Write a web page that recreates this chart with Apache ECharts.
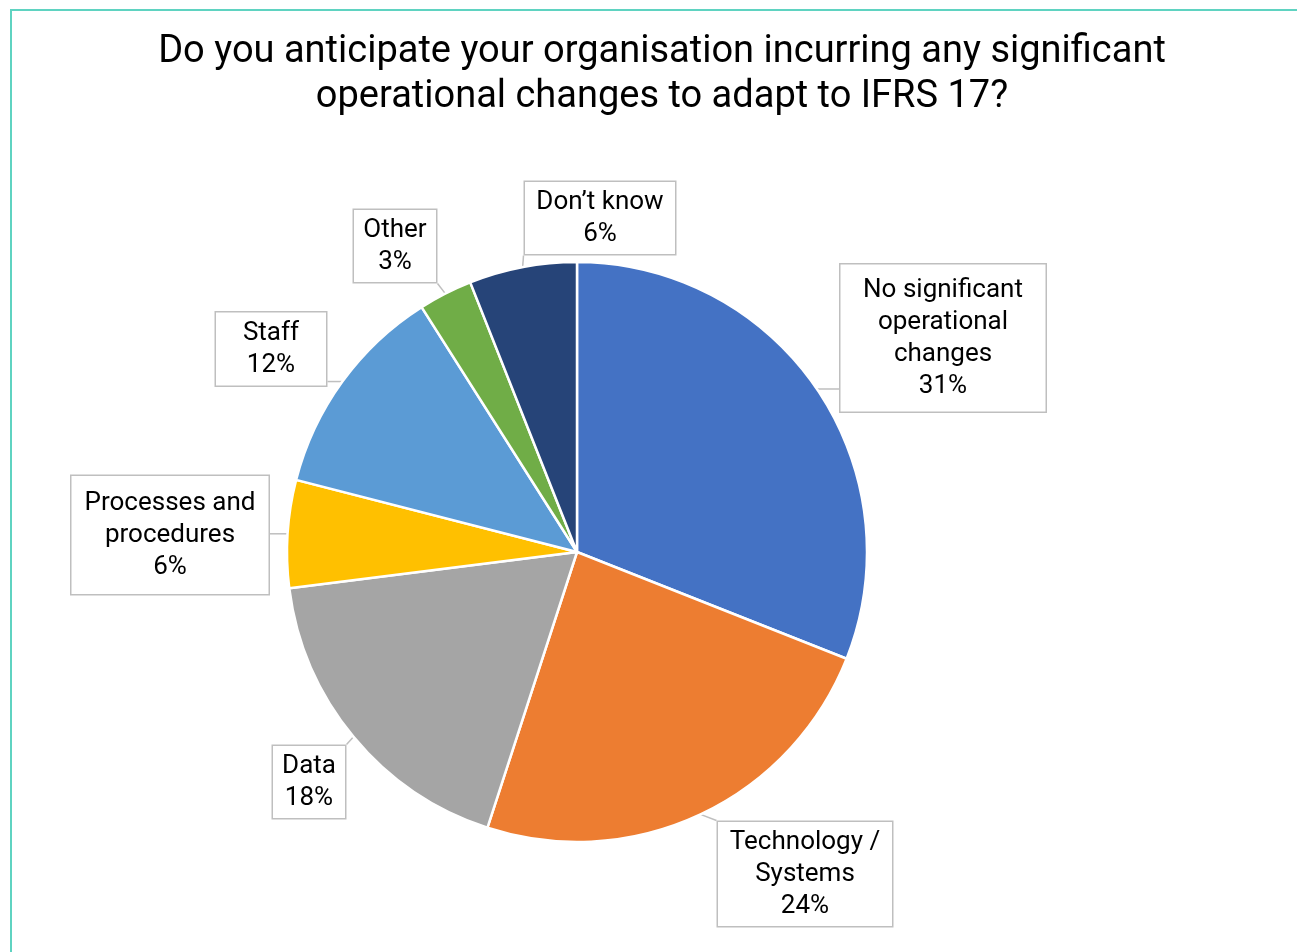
<!DOCTYPE html>
<html>
<head>
<meta charset="utf-8">
<script src="https://cdn.jsdelivr.net/npm/echarts@6/dist/echarts.min.js"></script>
<style>
  html, body { margin: 0; padding: 0; background: #fff; }
  #chart { width: 1297px; height: 952px; }
</style>
</head>
<body>
<div id="chart"></div>
<script>
// Survey responses: operational changes expected for IFRS 17
const categories = [
  'No significant\noperational\nchanges',
  'Technology /\nSystems',
  'Data',
  'Processes and\nprocedures',
  'Staff',
  'Other',
  'Don’t know'
];
const shares = [31, 24, 18, 6, 12, 3, 6];
const sliceColors = ['#4472C4', '#ED7D31', '#A5A5A5', '#FFC000', '#5B9BD5', '#70AD47', '#264478'];

// Callout boxes: centre (px), content width and vertical padding
const calloutCentres = [
  [943, 338], [805, 874], [309, 782], [170, 535], [271, 349], [395, 246], [600, 218]
];
const calloutWidths = [189, 158, 56, 181, 94, 66, 134];
const calloutVPad = [9.5, 4, 4, 11, 4.5, 4, 4];

const chart = echarts.init(document.getElementById('chart'), null, { renderer: 'canvas' });

// Nearest point of a rectangle to a given point
function nearestOnRect(p, r) {
  const x = Math.min(Math.max(p[0], r.x), r.x + r.width);
  const y = Math.min(Math.max(p[1], r.y), r.y + r.height);
  return [x, y];
}

const option = {
  animation: false,
  backgroundColor: '#ffffff',
  title: {
    text: 'Do you anticipate your organisation incurring any significant\noperational changes to adapt to IFRS 17?',
    left: 662,
    top: 30,
    textAlign: 'center',
    padding: 0,
    textStyle: {
      fontFamily: 'Roboto',
      fontSize: 38,
      fontWeight: 'normal',
      color: '#000000',
      lineHeight: 45,
      align: 'center'
    }
  },
  graphic: [{
    type: 'polyline',
    shape: { points: [[11, 960], [11, 10], [1305, 10]] },
    style: { stroke: '#5fd3c1', lineWidth: 2, fill: null },
    silent: true
  }],
  series: [{
    type: 'pie',
    center: [577, 552],
    radius: [0, 290],
    startAngle: 90,
    clockwise: true,
    itemStyle: { borderColor: '#ffffff', borderWidth: 2.5 },
    label: {
      show: true,
      formatter: p => p.name + '\n' + p.value + '%',
      fontFamily: 'Roboto',
      fontSize: 26,
      lineHeight: 32,
      color: '#000000',
      align: 'center',
      overflow: 'none',
      backgroundColor: '#ffffff',
      borderColor: '#bfbfbf',
      borderWidth: 1.5
    },
    labelLine: {
      show: true,
      lineStyle: { color: '#bfbfbf', width: 1.5 }
    },
    labelLayout: function (params) {
      const i = params.dataIndex;
      const c = calloutCentres[i];
      const w = params.labelRect.width;
      const h = params.labelRect.height;
      const box = { x: c[0] - w / 2, y: c[1] - h / 2, width: w, height: h };
      const out = { x: c[0], y: c[1], align: 'center', verticalAlign: 'middle' };
      if (params.labelLinePoints) {
        const start = params.labelLinePoints[0];
        const end = nearestOnRect(start, box);
        out.labelLinePoints = [start, end, end];
      }
      return out;
    },
    data: categories.map((name, i) => ({
      name: name,
      value: shares[i],
      itemStyle: { color: sliceColors[i] },
      label: {
        width: calloutWidths[i],
        padding: [calloutVPad[i] + 2, 8, calloutVPad[i] - 2, 8]
      }
    }))
  }]
};

chart.setOption(option);
</script>
</body>
</html>
